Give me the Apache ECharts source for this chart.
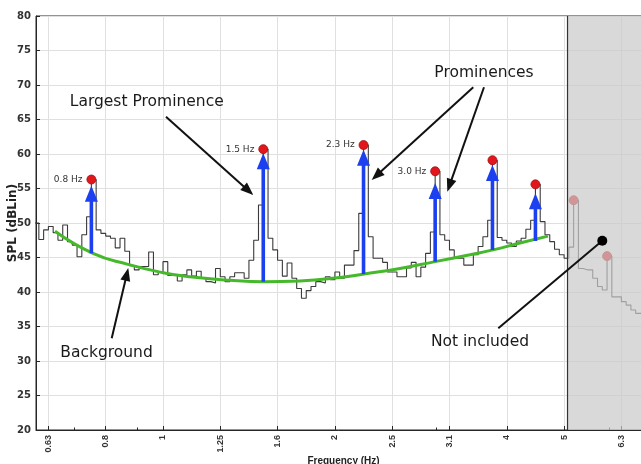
<!DOCTYPE html>
<html><head><meta charset="utf-8">
<script src="https://cdn.jsdelivr.net/npm/echarts@6/dist/echarts.min.js"></script>
<style>html,body{margin:0;padding:0;background:#fff}#c{width:641px;height:464px}</style>
</head><body><div id="c"></div>
<script>
// ---------------- data ----------------
// x axis is in 1/3-octave band numbers: band = 10*log10(f / 1 Hz)
const tickLabels = ['0.63','0.8','1','1.25','1.6','2','2.5','3.1','4','5','6.3'];
const tickBands  = [-2,-1,0,1,2,3,4,5,6,7,8];
const minorTickFreqs = [0.7, 0.9, 3, 6];

// spectrum: 1/36-octave bins (12 bins per 1/3-octave band), first bin index -27
const specFirstBin = -27;
const binsPerBand = 12;
const specLevels = [
  50.0, 47.6, 49.0, 49.5, 48.6, 47.5, 49.7, 47.3, 46.8, 45.1, 48.3, 50.9,
  56.3, 49.0, 48.5, 48.1, 47.8, 46.4, 47.8, 45.9, 43.8, 43.2, 43.7, 43.7,
  45.8, 42.5, 42.9, 44.4, 42.4, 42.4, 41.6, 42.5, 43.2, 42.3, 43.0, 42.0,
  41.5, 41.3, 43.4, 42.2, 41.5, 42.2, 42.8, 42.8, 42.0, 44.6, 47.5, 52.6,
  60.7, 47.8, 46.1, 44.6, 42.3, 44.2, 42.0, 40.5, 39.1, 40.2, 40.8, 41.5,
  41.3, 42.2, 41.8, 42.9, 42.0, 43.9, 43.9, 46.0, 51.4, 61.3, 48.0, 44.9,
  44.9, 44.3, 42.9, 42.9, 42.2, 42.2, 43.5, 44.3, 42.2, 43.6, 45.6, 48.7,
  57.5, 48.3, 47.5, 46.1, 44.9, 44.9, 43.9, 43.9, 45.4, 46.6, 48.0, 50.4,
  59.1, 47.9, 47.5, 47.1, 46.6, 47.4, 47.8, 49.1, 50.4, 55.6, 50.2, 48.3,
  47.3, 46.2, 45.4, 44.9, 46.5, 53.3, 43.4, 43.2, 43.2, 42.0, 40.8, 40.3,
  45.2, 39.3, 39.3, 38.6, 38.1, 37.4, 36.9, 36.9, 36.9
];

// background curve (band number, dB)
const bgBands  = [-1.885,-1.222,-0.611,0,0.471,1.169,1.763,2.391,3.089,3.508,4.136,4.747,5.358,5.759,6.230,6.719];
const bgLevels = [48.8,45.6,44.0,42.8,42.2,41.7,41.5,41.6,42.1,42.6,43.4,44.4,45.4,46.1,47.1,48.1];

// detected peaks (bin index, level, label)
const peakBins   = [-15, 21, 42, 57, 69, 78, 86, 93];
const peakLevels = [56.3, 60.7, 61.3, 57.5, 59.1, 55.6, 53.3, 45.2];
const peakLabels = ['0.8 Hz','1.5 Hz','2.3 Hz','3.0 Hz','','','',''];

// prominence arrows (for the included peaks): base on background, tip
const promBase = [45.6, 41.5, 42.6, 44.4, 46.1, 47.4];
const promTip  = [55.4, 60.1, 60.6, 55.8, 58.4, 54.3];

// excluded frequency region (band numbers)
const excludedFrom = 7.06;

// ---------------- layout / annotation config ----------------
const X_MIN = -2.2164, X_MAX = 8.517;
const annArrows = [ // [fromBand, fromDb, toBand, toDb]
  [0.052, 65.41, 1.576, 54.06],
  [5.415, 69.67, 3.642, 56.23],
  [5.602, 69.67, 4.962, 54.54],
  [-0.895, 33.29, -0.606, 43.48]
];
const annTexts = [ // [band, dB, text]
  [-0.284, 67.54, 'Largest Prominence'],
  [5.602, 71.81, 'Prominences'],
  [-0.986, 31.16, 'Background'],
  [5.532, 32.75, 'Not included']
];
const notIncludedLine = [5.852, 34.74, 7.667, 47.43];

const FONT = 'DejaVu Sans';
const bandOf = n => n / binsPerBand;

const specData = specLevels.map((v, i) => [bandOf(specFirstBin + i), v]);
const bgData = bgBands.map((b, i) => [b, bgLevels[i]]);
const peakData = peakBins.map((n, i) => ({value: [bandOf(n), peakLevels[i]], label: {show: !!peakLabels[i], formatter: peakLabels[i]}}));
const arrowData = promBase.map((b, i) => [bandOf(peakBins[i]), b, promTip[i]]);
const minorBands = minorTickFreqs.map(f => 10 * Math.log10(f));

const chart = echarts.init(document.getElementById('c'), null, {renderer: 'canvas'});

function renderBlueArrow(params, api) {
  const p0 = api.coord([api.value(0), api.value(1)]);
  const p1 = api.coord([api.value(0), api.value(2)]);
  const headL = 16, headW = 6.5, shaftW = 3.6;
  const hb = p1[1] + headL;
  return {type: 'group', children: [
    {type: 'rect', shape: {x: p0[0] - shaftW / 2, y: hb - 1, width: shaftW, height: p0[1] - hb + 1}, style: {fill: '#1c3ff0'}},
    {type: 'polygon', shape: {points: [[p1[0], p1[1]], [p1[0] - headW, hb], [p1[0] + headW, hb]]}, style: {fill: '#1c3ff0'}}
  ]};
}
function renderAnnArrow(params, api) {
  const p0 = api.coord([api.value(0), api.value(1)]);
  const p1 = api.coord([api.value(2), api.value(3)]);
  const dx = p1[0] - p0[0], dy = p1[1] - p0[1];
  const len = Math.hypot(dx, dy), ux = dx / len, uy = dy / len;
  const headL = 13, headW = 5;
  const bx = p1[0] - ux * headL, by = p1[1] - uy * headL;
  return {type: 'group', children: [
    {type: 'line', shape: {x1: p0[0], y1: p0[1], x2: bx + ux * 2, y2: by + uy * 2}, style: {stroke: '#111', lineWidth: 2}},
    {type: 'polygon', shape: {points: [[p1[0], p1[1]], [bx - uy * headW, by + ux * headW], [bx + uy * headW, by - ux * headW]]}, style: {fill: '#111'}}
  ]};
}
function renderAnnText(params, api) {
  const p = api.coord([api.value(0), api.value(1)]);
  return {type: 'text', x: p[0], y: p[1], style: {text: annTexts[params.dataIndex][2], fill: '#1a1a1a', font: '15.5px "' + FONT + '"', align: 'center', verticalAlign: 'middle'}};
}
function renderPatch(params, api) {
  const a = api.coord([api.value(0), 80]);
  const b = api.coord([X_MAX, 20]);
  return {type: 'group', children: [
    {type: 'rect', shape: {x: a[0], y: a[1], width: b[0] - a[0] + 20, height: b[1] - a[1]}, style: {fill: 'rgba(201,201,201,0.71)'}},
    {type: 'line', shape: {x1: a[0], y1: a[1], x2: a[0], y2: b[1]}, style: {stroke: '#333', lineWidth: 1.2}}
  ]};
}
function renderLine(params, api) {
  const p0 = api.coord([api.value(0), api.value(1)]);
  const p1 = api.coord([api.value(2), api.value(3)]);
  return {type: 'group', children: [
    {type: 'line', shape: {x1: p0[0], y1: p0[1], x2: p1[0], y2: p1[1]}, style: {stroke: '#111', lineWidth: 2}},
    {type: 'circle', shape: {cx: p1[0], cy: p1[1], r: 5}, style: {fill: '#000'}}
  ]};
}

chart.setOption({
  animation: false,
  backgroundColor: '#fff',
  grid: {left: 36, top: 16, right: -10, bottom: 34, containLabel: false, outerBoundsMode: 'none',
    show: true, borderColor: '#262626', borderWidth: 1, backgroundColor: 'transparent'},
  xAxis: [{
    type: 'value', min: X_MIN, max: X_MAX, position: 'bottom',
    name: 'Frequency (Hz)', nameLocation: 'middle', nameGap: 26, nameMoveOverlap: false,
    nameTextStyle: {fontFamily: 'Liberation Sans', fontWeight: 'bold', fontSize: 10, color: '#222'},
    axisLine: {show: true, onZero: false, lineStyle: {color: '#262626', width: 1}},
    axisTick: {show: true, inside: true, length: 4, customValues: tickBands, lineStyle: {color: '#262626'}},
    axisLabel: {show: true, customValues: tickBands, rotate: 90, margin: 5, fontFamily: 'Liberation Sans', fontWeight: 'bold', fontSize: 9, color: '#333',
      formatter: v => { const i = tickBands.indexOf(Math.round(v)); return i >= 0 ? tickLabels[i] : ''; }},
    splitLine: {show: true, lineStyle: {color: '#e0e0e0', width: 1}}
  }, {
    type: 'value', min: X_MIN, max: X_MAX, position: 'bottom',
    axisLine: {show: false, onZero: false}, axisLabel: {show: false}, splitLine: {show: false},
    axisTick: {show: true, inside: true, length: 2.5, customValues: minorBands, lineStyle: {color: '#262626'}}
  }],
  yAxis: {
    type: 'value', min: 20, max: 80, interval: 5,
    name: 'SPL (dBLin)', nameLocation: 'middle', nameGap: 17, nameRotate: 90, nameMoveOverlap: false,
    nameTextStyle: {fontFamily: FONT, fontWeight: 'bold', fontSize: 12, color: '#222'},
    axisLine: {show: true, onZero: false, lineStyle: {color: '#262626', width: 1}},
    axisTick: {show: true, inside: true, length: 4, lineStyle: {color: '#262626'}},
    axisLabel: {fontFamily: FONT, fontWeight: 'bold', fontSize: 10, color: '#333', margin: 5},
    splitLine: {show: true, lineStyle: {color: '#e0e0e0', width: 1}}
  },
  series: [
    {type: 'line', name: 'spectrum', data: specData, step: 'end', symbol: 'none', z: 2,
      lineStyle: {color: '#3a3a3a', width: 1.1}},
    {type: 'line', name: 'background', data: bgData, smooth: true, symbol: 'none', z: 3,
      lineStyle: {color: '#46b82c', width: 3}},
    {type: 'custom', name: 'prominence', data: arrowData, renderItem: renderBlueArrow, z: 4},
    {type: 'scatter', name: 'peaks', data: peakData, symbolSize: 9, z: 5,
      itemStyle: {color: '#e3161b', borderColor: '#a01010', borderWidth: 0.8, opacity: 1},
      label: {position: 'left', distance: 4, fontFamily: FONT, fontSize: 9, color: '#333'}},
    {type: 'custom', name: 'excluded', data: [[excludedFrom]], renderItem: renderPatch, z: 6, clip: true},
    {type: 'custom', name: 'notIncluded', data: [notIncludedLine], renderItem: renderLine, z: 7, clip: false},
    {type: 'custom', name: 'annArrows', data: annArrows, renderItem: renderAnnArrow, z: 7, clip: false},
    {type: 'custom', name: 'annTexts', data: annTexts.map(t => [t[0], t[1]]), renderItem: renderAnnText, z: 7, clip: false}
  ]
});
</script>
</body></html>
